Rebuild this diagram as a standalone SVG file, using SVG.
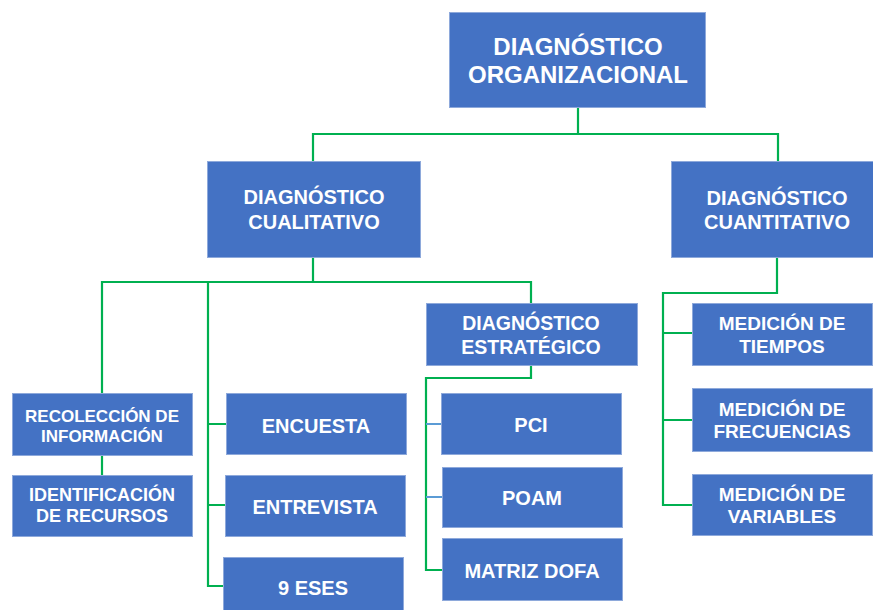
<svg xmlns="http://www.w3.org/2000/svg" width="873" height="610" viewBox="0 0 873 610">
<style>
.box{fill:#4472C4;stroke:#8EA9DB;stroke-width:1}
.t{fill:#ffffff;font-family:"Liberation Sans",Arial,sans-serif;font-weight:bold;text-anchor:middle}
.g{fill:none;stroke:#00B050;stroke-width:2.2}
.b{fill:none;stroke:#5B9BD5;stroke-width:2}
</style>
<rect width="873" height="610" fill="#ffffff"/>
<g id="connectors">
<path class="g" d="M578,107 V134 M313,162 V134 H778 V162"/>
<path class="g" d="M313,257 V282 M102,393 V282 H531 V303 M208,282 V586 H223 M208,424 H226 M208,505 H225"/>
<path class="g" d="M102,455 V475"/>
<path class="g" d="M531,365 V378 H426 V570 H442"/>
<path class="b" d="M426,424 H441 M426,497 H442"/>
<path class="g" d="M777,257 V293 H663 V505 H692 M663,333 H692 M663,420 H692"/>
</g>
<g id="n-organizacional"><rect class="box" x="449.5" y="12.5" width="256" height="95"/><text class="t" font-size="24" x="578" y="55">DIAGNÓSTICO</text><text class="t" font-size="24" x="578" y="83">ORGANIZACIONAL</text></g>
<g id="n-cualitativo"><rect class="box" x="207.5" y="161.5" width="213" height="96"/><text class="t" font-size="20" x="314" y="204">DIAGNÓSTICO</text><text class="t" font-size="20" x="314" y="229">CUALITATIVO</text></g>
<g id="n-cuantitativo"><rect class="box" x="671.5" y="161.5" width="213" height="96"/><text class="t" font-size="20" x="777" y="205">DIAGNÓSTICO</text><text class="t" font-size="20" x="777" y="229">CUANTITATIVO</text></g>
<g id="n-recoleccion"><rect class="box" x="12.5" y="393.5" width="180" height="62"/><text class="t" font-size="17" x="102" y="422">RECOLECCIÓN DE</text><text class="t" font-size="17" x="102" y="442">INFORMACIÓN</text></g>
<g id="n-identificacion"><rect class="box" x="12.5" y="475.5" width="180" height="61"/><text class="t" font-size="18" x="102" y="501">IDENTIFICACIÓN</text><text class="t" font-size="18" x="102" y="522">DE RECURSOS</text></g>
<g id="n-encuesta"><rect class="box" x="226.5" y="393.5" width="180" height="61"/><text class="t" font-size="20" x="316" y="433">ENCUESTA</text></g>
<g id="n-entrevista"><rect class="box" x="225.5" y="475.5" width="180" height="61"/><text class="t" font-size="20" x="315" y="514">ENTREVISTA</text></g>
<g id="n-9eses"><rect class="box" x="223.5" y="557.5" width="180" height="60"/><text class="t" font-size="20" x="313" y="595">9 ESES</text></g>
<g id="n-estrategico"><rect class="box" x="426.5" y="303.5" width="211" height="62"/><text class="t" font-size="19.5" x="531" y="330">DIAGNÓSTICO</text><text class="t" font-size="19.5" x="531" y="354">ESTRATÉGICO</text></g>
<g id="n-pci"><rect class="box" x="441.5" y="393.5" width="180" height="61"/><text class="t" font-size="20" x="531" y="432">PCI</text></g>
<g id="n-poam"><rect class="box" x="442.5" y="467.5" width="180" height="60"/><text class="t" font-size="20" x="532" y="505">POAM</text></g>
<g id="n-dofa"><rect class="box" x="442.5" y="538.5" width="180" height="62"/><text class="t" font-size="20" x="532" y="578">MATRIZ DOFA</text></g>
<g id="n-tiempos"><rect class="box" x="692.5" y="303.5" width="180" height="62"/><text class="t" font-size="19" x="782" y="330">MEDICIÓN DE</text><text class="t" font-size="19" x="782" y="353">TIEMPOS</text></g>
<g id="n-frecuencias"><rect class="box" x="692.5" y="388.5" width="180" height="63"/><text class="t" font-size="19" x="782" y="416">MEDICIÓN DE</text><text class="t" font-size="19" x="782" y="438">FRECUENCIAS</text></g>
<g id="n-variables"><rect class="box" x="692.5" y="474.5" width="180" height="61"/><text class="t" font-size="19" x="782" y="501">MEDICIÓN DE</text><text class="t" font-size="19" x="782" y="523">VARIABLES</text></g>
</svg>
